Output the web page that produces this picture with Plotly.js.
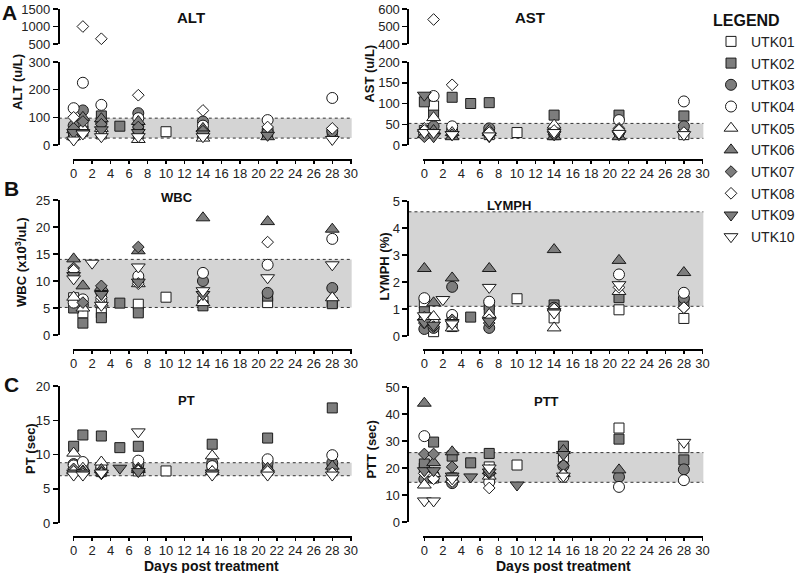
<!DOCTYPE html>
<html><head><meta charset="utf-8">
<script src="https://cdn.plot.ly/plotly-3.0.1.min.js"></script>
<style>html,body{margin:0;padding:0;background:#fff}#chart{width:800px;height:573px}</style>
</head><body><div id="chart"></div>
<script>
// ---------------- DATA ----------------
const series = ['UTK01','UTK02','UTK03','UTK04','UTK05','UTK06','UTK07','UTK08','UTK09','UTK10'];
const daysAB = [0, 1, 2, 3, 5, 7, 10, 14, 21, 28];
const daysC  = [0, 1, 3, 5, 7, 10, 15, 21, 28];

// ALT (u/L), columns = daysAB
const alt = [
  [40, 75, null, 40, null, 40, 48, 35, null, null],
  [35, 50, null, 105, 68, 55, null, 45, 45, 45],
  [70, 125, null, 80, null, 115, null, 85, 55, 50],
  [133, 225, null, 145, null, 97, null, 70, 90, 170],
  [30, 60, null, 60, null, 20, null, 25, null, null],
  [55, 100, null, 95, null, 85, null, 60, 30, null],
  [60, 85, null, 75, null, 65, null, 50, 50, null],
  [100, 1000, null, 650, null, 180, null, 125, 65, 60],
  [45, 45, null, 55, null, 45, null, 40, 35, null],
  [18, 40, null, 30, null, 30, null, 30, null, 20]
];
// AST (u/L)
const ast = [
  [35, 94, null, 30, null, 25, 30, 25, null, 25],
  [104, 72, null, 115, 100, 102, null, 72, 72, 70],
  [30, 45, null, 35, null, 40, null, 30, 30, 45],
  [28, 118, null, 45, null, 30, null, 41, 60, 105],
  [40, 66, null, 30, null, 35, null, 48, null, null],
  [25, 35, null, 20, null, 30, null, 20, 20, null],
  [20, 25, null, 25, null, 25, null, 25, 40, null],
  [35, 540, null, 145, null, 30, null, 35, 36, 30],
  [120, 20, null, 25, null, 20, null, 25, 25, null],
  [30, 30, null, 25, null, 22, null, 30, 28, 25]
];
// WBC (x10^3/uL)
const wbc = [
  [6.9, 4.1, null, 4.1, null, 5.7, 7.0, 6.3, 6.0, 6.0],
  [5.0, 2.2, null, 3.2, 5.9, 4.1, null, 5.4, 7.2, 5.8],
  [11.5, 5.5, null, 7.8, null, 10.0, null, 10.0, 7.8, 8.7],
  [6.0, 6.6, null, 6.5, null, 10.9, null, 11.5, 13.0, 17.8],
  [7.0, 5.0, null, 5.9, null, 9.5, null, 6.0, null, 6.9],
  [14.1, 9.1, null, 8.8, null, 15.6, null, 21.7, 21.0, 19.6],
  [12.4, 6.0, null, 9.1, null, 16.3, null, null, null, null],
  [12.0, null, null, 7.0, null, 9.5, null, null, 17.2, null],
  [11.0, null, null, 7.5, null, 9.8, null, 7.5, null, null],
  [10.4, null, 13.3, 5.5, null, 12.6, null, 8.2, 10.6, 13.0]
];
// LYMPH (%)
const lymph = [
  [1.22, 0.16, null, 0.35, null, 1.15, 1.38, 0.67, 0.97, 0.65],
  [0.9, 0.4, null, 0.6, 0.7, 0.97, null, 1.15, 1.42, 1.2],
  [0.26, 0.3, null, 1.82, null, 0.3, null, 1.05, null, 1.4],
  [1.4, 0.5, null, 0.78, null, 1.27, null, null, 2.28, 1.6],
  [0.7, 0.72, null, 0.3, null, 0.8, null, 0.3, 1.65, null],
  [2.5, 1.23, null, 2.15, null, 2.5, null, 3.2, 2.8, 2.35],
  [0.48, 0.35, null, 0.6, null, 0.48, null, 0.9, null, 1.05],
  [0.6, null, null, 0.5, null, 0.6, null, 1.0, 1.8, 1.05],
  [0.5, 0.4, null, 0.5, null, 0.55, null, 0.9, null, null],
  [0.75, null, 1.35, 0.45, null, 1.8, null, 0.85, 1.9, null]
];
// PT (sec), columns = daysC
const pt = [
  [8.2, 8.5, 7.5, null, 7.6, 7.6, 7.9, 7.7, 8.0],
  [11.2, 12.85, 12.7, 11.0, 11.2, null, 11.5, 12.4, 16.8],
  [8.6, 7.7, 8.0, null, 8.5, null, 8.8, 8.8, 8.8],
  [8.4, 8.9, 8.2, null, 9.1, null, 8.3, 9.3, 9.9],
  [10.2, 8.0, 8.9, null, 8.0, null, 9.8, null, null],
  [7.6, 7.6, 7.8, null, 7.8, null, 7.5, 8.0, 8.3],
  [7.9, 7.5, 7.4, null, 7.7, null, 7.4, null, null],
  [7.5, 7.2, 7.2, null, 7.6, null, 7.5, 7.5, 7.3],
  [7.3, 7.3, 7.2, 8.0, 7.5, null, 7.3, null, null],
  [7.0, 7.0, 7.3, null, 13.3, null, 7.0, 7.0, 7.0]
];
// PTT (sec)
const ptt = [
  [20, 16.3, 16.3, null, 20.4, 21.1, 24, 34.8, 27.5],
  [21.5, 29.6, 24.4, 21.9, 25.4, null, 28.1, 30.7, 23],
  [15.9, 17.4, 14.4, null, 18, null, 20.7, 16.7, 19.5],
  [31.8, 16.3, 16.3, null, 14.8, null, 16.7, 13, 15.5],
  [13.7, 18, 16, null, 17, null, 18, null, null],
  [44, 22, 26, null, 19, null, 26.5, 19.3, null],
  [25.2, 25.2, 20.4, null, 18, null, 21, null, null],
  [18, 16, 15, null, 12.6, null, 17.5, null, null],
  [19, 19, 17, 16.7, 18.5, 13.7, 25, null, null],
  [7.8, 7.8, 16, null, 20, null, 17, null, 29.5]
];
// Normal reference ranges [low, high]
const refALT = [25, 97];
const refAST = [16, 52];
const refWBC = [5.1, 14];
const refLYMPH = [1.1, 4.6];
const refPT = [6.9, 8.8];
const refPTT = [14.7, 25.7];

// ---------------- STYLE ----------------
const symbols = ['square','square','circle','circle','triangle-up','triangle-up','diamond','diamond','triangle-down','triangle-down'];
const isFilled = [false,true,true,false,false,true,true,false,true,false];
const sizes = {square:10, circle:11, 'triangle-up':12, 'triangle-down':12, diamond:9};
const GREY = '#7d7d7d';
const FONT = 'Liberation Sans, Arial, sans-serif';
const W = 800, H = 573;
const px = v => v / W;
const py = v => 1 - v / H;

const traces = [];
function mk(x, y, xa, ya, i, showleg) {
  return {
    type: 'scatter', mode: 'markers', x: x, y: y, xaxis: xa, yaxis: ya,
    name: series[i], legendgroup: series[i], showlegend: showleg, cliponaxis: false,
    marker: {symbol: symbols[i], size: sizes[symbols[i]], color: isFilled[i] ? GREY : '#ffffff',
             line: {color: '#1a1a1a', width: 1}},
    hoverinfo: 'x+y+name'
  };
}
function addPanel(vals, days, xa, ya, yaUp, split, leg) {
  vals.forEach((arr, i) => {
    const lx = [], ly = [], hx = [], hy = [];
    arr.forEach((v, j) => {
      if (v == null) return;
      if (split != null && v > split) { hx.push(days[j]); hy.push(v); }
      else { lx.push(days[j]); ly.push(v); }
    });
    traces.push(mk(lx, ly, xa, ya, i, leg));
    if (hx.length) traces.push(mk(hx, hy, xa, yaUp, i, false));
  });
}
addPanel(alt, daysAB, 'x', 'y', 'y2', 300, true);
addPanel(ast, daysAB, 'x2', 'y3', 'y4', 200, false);
addPanel(wbc, daysAB, 'x3', 'y5', null, null, false);
addPanel(lymph, daysAB, 'x4', 'y6', null, null, false);
addPanel(pt, daysC, 'x5', 'y7', null, null, false);
addPanel(ptt, daysC, 'x6', 'y8', null, null, false);

const tickFont = {family: FONT, size: 13, color: '#222'};
const LEFT = [73, 353], RIGHT = [425, 706];
const YL = 59, YR = 410;
function xAx(dom, line) {
  return {domain: [px(dom[0]), px(dom[1])], range: [-0.1, 30.1], anchor: 'free', position: py(line),
    tick0: 0, dtick: 2, ticks: 'outside', ticklen: 3, tickwidth: 1.5, tickcolor: '#000',
    ticklabelstandoff: -2,
    showline: true, linewidth: 2, linecolor: '#000', showgrid: false, zeroline: false,
    tickfont: tickFont, fixedrange: true};
}
function yAx(top, bot, r, dt, xpos) {
  return {domain: [py(bot), py(top)], range: r, anchor: 'free', position: px(xpos),
    tick0: r[0], dtick: dt, ticks: 'outside', ticklen: 5, tickwidth: 1.5, tickcolor: '#000',
    showline: true, linewidth: 2, linecolor: '#000', showgrid: false, zeroline: false,
    tickfont: tickFont, fixedrange: true};
}
const shapes = [];
function band(xa, ya, ref, dom, yx) {
  const x0 = (yx - dom[0]) / (dom[1] - dom[0]);
  shapes.push({type: 'rect', layer: 'below', xref: xa + ' domain', yref: ya, x0: x0, x1: 1,
    y0: ref[0], y1: ref[1], fillcolor: '#d4d4d4', line: {width: 0}});
  ref.forEach(v => shapes.push({type: 'line', layer: 'below', xref: xa + ' domain', yref: ya, x0: x0, x1: 1,
    y0: v, y1: v, line: {color: '#333', width: 1, dash: 'dot'}}));
}
band('x', 'y', refALT, LEFT, YL);
band('x2', 'y3', refAST, RIGHT, YR);
band('x3', 'y5', refWBC, LEFT, YL);
band('x4', 'y6', refLYMPH, RIGHT, YR);
band('x5', 'y7', refPT, LEFT, YL);
band('x6', 'y8', refPTT, RIGHT, YR);

function ann(text, x, y, size, angle) {
  return {text: text, xref: 'paper', yref: 'paper', x: px(x), y: py(y), xanchor: 'center', yanchor: 'middle',
    showarrow: false, textangle: angle || 0, font: {family: FONT, size: size, color: '#111'}};
}
const annotations = [
  ann('<b>A</b>', 10, 12, 21), ann('<b>B</b>', 12, 189, 21), ann('<b>C</b>', 12, 384, 21),
  ann('<b>ALT</b>', 192, 17, 15), ann('<b>AST</b>', 532, 17, 15),
  ann('<b>WBC</b>', 178, 197, 13), ann('<b>LYMPH</b>', 511, 205, 13),
  ann('<b>PT</b>', 187, 400, 13), ann('<b>PTT</b>', 549, 401, 13),
  ann('<b>ALT (u/L)</b>', 18, 82, 13, -90), ann('<b>AST (u/L)</b>', 370, 74, 13, -90),
  ann('<b>WBC (x10<sup>3</sup>/uL)</b>', 21, 262, 13, -90), ann('<b>LYMPH (%)</b>', 385, 267, 13, -90),
  ann('<b>PT (sec)</b>', 30, 448, 13, -90), ann('<b>PTT (sec)</b>', 372, 449, 13, -90),
  ann('<b>Days post treatment</b>', 212, 566, 14), ann('<b>Days post treatment</b>', 566, 566, 14)
];

const layout = {
  width: W, height: H, margin: {l: 0, r: 0, t: 0, b: 0},
  paper_bgcolor: '#fff', plot_bgcolor: 'rgba(0,0,0,0)',
  font: {family: FONT, color: '#111'},
  showlegend: true,
  legend: {x: px(714), y: py(5), xanchor: 'left', yanchor: 'top',
    title: {text: '<b>LEGEND</b>', font: {family: FONT, size: 16, color: '#111'}},
    font: {family: FONT, size: 14, color: '#222'}, bgcolor: 'rgba(0,0,0,0)', tracegroupgap: 0.5, itemsizing: 'trace'},
  xaxis: xAx(LEFT, 160), xaxis2: xAx(RIGHT, 160),
  xaxis3: xAx(LEFT, 350), xaxis4: xAx(RIGHT, 350),
  xaxis5: xAx(LEFT, 537), xaxis6: xAx(RIGHT, 537),
  yaxis: yAx(62, 145, [0, 300], 100, YL),
  yaxis2: yAx(9, 44, [500, 1500], 500, YL),
  yaxis3: yAx(62, 145, [0, 200], 50, YR),
  yaxis4: yAx(9, 44, [400, 600], 100, YR),
  yaxis5: yAx(200, 335, [0, 25], 5, YL),
  yaxis6: yAx(201, 336, [0, 5], 1, YR),
  yaxis7: yAx(386, 523, [0, 20], 5, YL),
  yaxis8: yAx(387, 522, [0, 50], 10, YR),
  shapes: shapes, annotations: annotations
};
Plotly.newPlot('chart', traces, layout, {displayModeBar: false, staticPlot: true});
</script></body></html>
